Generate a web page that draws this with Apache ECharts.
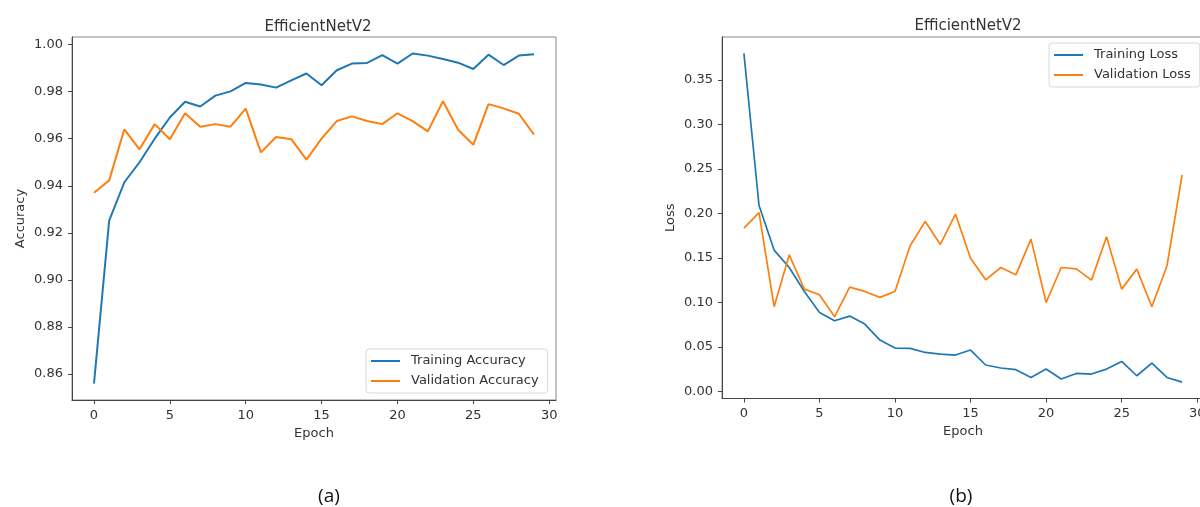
<!DOCTYPE html>
<html>
<head>
<meta charset="utf-8">
<script src="https://cdn.jsdelivr.net/npm/echarts@6/dist/echarts.min.js"></script>
<style>
html,body{margin:0;padding:0;background:#fff;}
#chart{width:1200px;height:507px;}
</style>
</head>
<body>
<div id="chart"></div>
<script>
// ---- data ----
const epochs = [0,1,2,3,4,5,6,7,8,9,10,11,12,13,14,15,16,17,18,19,20,21,22,23,24,25,26,27,28,29];
const trainAcc = [0.856,0.9252,0.9415,0.950,0.960,0.969,0.9757,0.9737,0.9783,0.9801,0.9837,0.983,0.9817,0.9848,0.9877,0.9827,0.9891,0.9919,0.9922,0.9955,0.9919,0.9962,0.9953,0.9939,0.9923,0.9896,0.9957,0.9913,0.9953,0.9959];
const valAcc = [0.937,0.9423,0.964,0.9555,0.9662,0.9598,0.9708,0.9651,0.9662,0.9651,0.9728,0.9542,0.9607,0.9598,0.9511,0.960,0.9675,0.9695,0.9675,0.9662,0.9708,0.9675,0.9631,0.9759,0.9638,0.9574,0.9747,0.9729,0.9706,0.9617];
const trainLoss = [0.380,0.209,0.1589,0.1393,0.1124,0.0888,0.0794,0.0847,0.0757,0.0577,0.0487,0.0484,0.0438,0.042,0.0409,0.0465,0.0297,0.0263,0.0244,0.0157,0.0251,0.0139,0.0202,0.0195,0.0251,0.0337,0.0176,0.0319,0.0157,0.0105];
const valLoss = [0.1836,0.2011,0.0952,0.1536,0.115,0.1087,0.0839,0.1173,0.1124,0.1057,0.1124,0.1637,0.191,0.1652,0.1993,0.1498,0.1255,0.1393,0.1311,0.1712,0.100,0.1393,0.1378,0.1251,0.1738,0.115,0.1375,0.0952,0.1412,0.2435];
const xTicks = [0,5,10,15,20,25,30];
const accTicks = [0.86,0.88,0.90,0.92,0.94,0.96,0.98,1.00];
const lossTicks = [0.00,0.05,0.10,0.15,0.20,0.25,0.30,0.35];
const chartTitle = 'EfficientNetV2';
const seriesNames = ['Training Accuracy','Validation Accuracy','Training Loss','Validation Loss'];

// ---- helpers ----
function pad(arrs){
  let lo = Infinity, hi = -Infinity;
  arrs.forEach(a => a.forEach(v => { lo = Math.min(lo, v); hi = Math.max(hi, v); }));
  const m = (hi - lo) * 0.05;
  return [lo - m, hi + m];
}
const xExt = pad([epochs]);
const accExt = pad([trainAcc, valAcc]);
const lossExt = pad([trainLoss, valLoss]);
const pts = vals => epochs.map((e, i) => [e, vals[i]]);

const FONT = 'DejaVu Sans';
const TXT = '#333';
const AX = '#444';

function xAxisCfg(gi){
  return {
    gridIndex: gi, type: 'value', min: xExt[0], max: xExt[1],
    name: 'Epoch', nameLocation: 'middle', nameGap: 27,
    nameTextStyle: {fontFamily: FONT, fontSize: 13, color: TXT},
    axisLine: {show: true, onZero: false, lineStyle: {color: AX, width: 1}},
    axisTick: {show: true, length: 4, customValues: xTicks, lineStyle: {color: AX}},
    axisLabel: {customValues: xTicks, margin: 9, fontFamily: FONT, fontSize: 13, color: TXT},
    splitLine: {show: false}
  };
}
function yAxisCfg(gi, ext, ticks, name, gap){
  return {
    gridIndex: gi, type: 'value', min: ext[0], max: ext[1],
    name: name, nameLocation: 'middle', nameGap: gap,
    nameTextStyle: {fontFamily: FONT, fontSize: 13, color: TXT},
    axisLine: {show: true, onZero: false, lineStyle: {color: AX, width: 1}},
    axisTick: {show: true, length: 4, customValues: ticks, lineStyle: {color: AX}},
    axisLabel: {customValues: ticks, margin: 9, fontFamily: FONT, fontSize: 13, color: TXT,
      formatter: v => v.toFixed(2)},
    splitLine: {show: false}
  };
}
function legendCfg(left, top, names){
  return {
    data: names, orient: 'vertical', left: left, top: top,
    icon: 'rect', itemWidth: 29, itemHeight: 2, itemGap: 4,
    padding: [4, 9, 4, 5],
    borderColor: '#d8d8d8', borderWidth: 1, borderRadius: 3,
    backgroundColor: 'rgba(255,255,255,0.85)',
    textStyle: {fontFamily: FONT, fontSize: 13, color: TXT, lineHeight: 16, padding: [0, 0, 0, 6]}
  };
}
const BLUE = '#1f77b4', ORANGE = '#ff7f0e';
function line(name, gi, vals, color, w){
  return {
    name: name, type: 'line', xAxisIndex: gi, yAxisIndex: gi,
    data: pts(vals), symbol: 'none', showSymbol: false,
    lineStyle: {color: color, width: w}, itemStyle: {color: color},
    emphasis: {disabled: true}
  };
}

const option = {
  animation: false,
  backgroundColor: '#fff',
  title: [
    {text: chartTitle, left: 313, top: 15, textAlign: 'center',
     textStyle: {fontFamily: FONT, fontSize: 15, fontWeight: 'normal', color: '#333'}},
    {text: chartTitle, left: 963, top: 14, textAlign: 'center',
     textStyle: {fontFamily: FONT, fontSize: 15, fontWeight: 'normal', color: '#333'}},
    {text: '(a)', left: 324, top: 482, textAlign: 'center',
     textStyle: {fontFamily: 'Open Sans', fontSize: 19, fontWeight: 'normal', color: '#111'}},
    {text: '(b)', left: 956, top: 482, textAlign: 'center',
     textStyle: {fontFamily: 'Open Sans', fontSize: 19, fontWeight: 'normal', color: '#111'}}
  ],
  grid: [
    {left: 72, top: 37, width: 484, height: 363, show: true, borderColor: '#888', borderWidth: 1,
     containLabel: false, outerBoundsMode: 'none'},
    {left: 722, top: 37, width: 482, height: 361.5, show: true, borderColor: '#888', borderWidth: 1,
     containLabel: false, outerBoundsMode: 'none'}
  ],
  legend: [
    legendCfg(366, 349, [seriesNames[0], seriesNames[1]]),
    legendCfg(1049, 43, [seriesNames[2], seriesNames[3]])
  ],
  xAxis: [xAxisCfg(0), xAxisCfg(1)],
  yAxis: [
    yAxisCfg(0, accExt, accTicks, 'Accuracy', 45),
    yAxisCfg(1, lossExt, lossTicks, 'Loss', 45)
  ],
  series: [
    line(seriesNames[0], 0, trainAcc, BLUE, 2),
    line(seriesNames[1], 0, valAcc, ORANGE, 2),
    line(seriesNames[2], 1, trainLoss, BLUE, 1.7),
    line(seriesNames[3], 1, valLoss, ORANGE, 1.7)
  ]
};
const chart = echarts.init(document.getElementById('chart'), null, {renderer: 'canvas'});
chart.setOption(option);
</script>
</body>
</html>
